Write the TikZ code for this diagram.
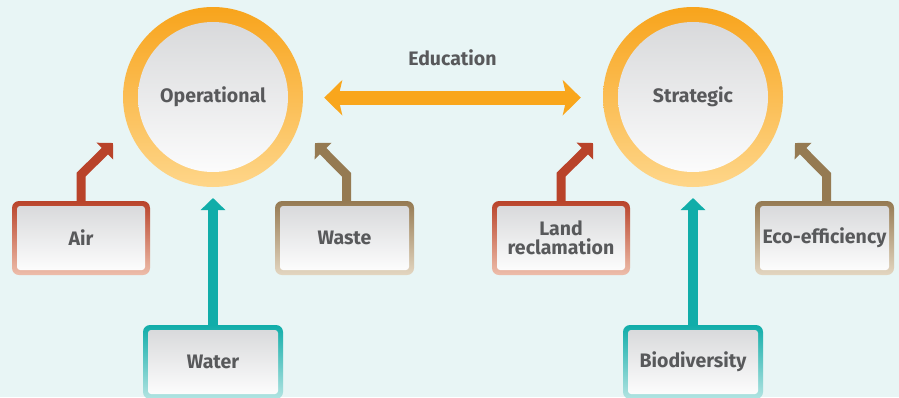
\documentclass[tikz,border=0pt]{standalone}
\usepackage{fontspec}
\setmainfont{Fira Sans}
\usetikzlibrary{arrows.meta}
\definecolor{bg}{HTML}{E8F5F5}
\definecolor{txt}{HTML}{58595B}
\definecolor{ringtop}{HTML}{F8A41C}
\definecolor{ringbot}{HTML}{FED68A}
\definecolor{innertop}{HTML}{D5D6D8}
\definecolor{boxtop}{HTML}{D6D7D9}
\definecolor{redc}{HTML}{B9432A}
\definecolor{redl}{HTML}{EDBDAA}
\definecolor{brownc}{HTML}{957A52}
\definecolor{brownl}{HTML}{E3D6C1}
\definecolor{tealc}{HTML}{10ADA9}
\definecolor{teall}{HTML}{B3E4E2}
\definecolor{orangec}{HTML}{F9A61C}
\begin{document}
\begin{tikzpicture}[x=1pt,y=-1pt,
  lab/.style={font=\fontsize{19.5}{18.5}\selectfont\bfseries, text=txt, align=center},
  hub/.style={circle, minimum size=180pt, inner sep=0pt, lab,
    top color=ringtop, bottom color=ringbot,
    path picture={\shade[top color=innertop, bottom color=white]
      (path picture bounding box.center) circle (75pt);}},
  box/.style n args={2}{rounded corners=7pt, minimum width=138pt, minimum height=74pt,
    inner sep=0pt, lab, top color=#1, middle color=#1!75!#2, bottom color=#2,
    path picture={\shade[top color=boxtop, bottom color=white, rounded corners=3pt]
      ([shift={(5pt,-5pt)}]path picture bounding box.north west) rectangle
      ([shift={(-5pt,5pt)}]path picture bounding box.south east);}},
  diag/.style={draw=#1, line width=9pt, line join=miter,
    -{Triangle[length=11.5pt, width=23pt, fill=#1]}},
  vert/.style={draw=#1, line width=9.5pt,
    -{Triangle[length=12pt, width=24pt, fill=#1]}}
]
\useasboundingbox[fill=bg] (0,0) rectangle (899,397);

% hubs
\node[hub] (op) at (213,97) {Operational};
\node[hub] (st) at (693,97) {Strategic};

% boxes
\node[box={redc}{redl}] (air) at (81,238) {Air};
\node[box={brownc}{brownl}, minimum width=139pt] (waste) at (344.5,238) {Waste};
\node[box={tealc}{teall}, minimum width=140pt] (water) at (213,362) {Water};
\node[box={redc}{redl}] (land) at (561,238) {Land\\reclamation};
\node[box={brownc}{brownl}, minimum width=139pt] (eco) at (824.5,238) {Eco-efficiency};
\node[box={tealc}{teall}, minimum width=140pt] (bio) at (693,362) {Biodiversity};

% arrow tips
\coordinate (airtip) at (113,143);
\coordinate (wastetip) at (315,143);
\coordinate (watertip) at (213,198);
\coordinate (landtip) at (593,143);
\coordinate (ecotip) at (795,143);
\coordinate (biotip) at (693,198);

\draw[diag=redc] (air.north) -- ++(0,-26) -- (airtip);
\draw[diag=brownc] ([xshift=2pt]waste.north) -- ++(0,-26) -- (wastetip);
\draw[vert=tealc] (water.north) -- (watertip);
\draw[diag=redc] (land.north) -- ++(0,-26) -- (landtip);
\draw[diag=brownc] ([xshift=2pt]eco.north) -- ++(0,-26) -- (ecotip);
\draw[vert=tealc] (bio.north) -- (biotip);

% education
\draw[draw=orangec, line width=14pt,
  {Stealth[length=18pt, width=35pt, inset=4pt, fill=orangec]}-{Stealth[length=18pt, width=35pt, inset=4pt, fill=orangec]}]
  ([xshift=21pt,yshift=-0.7pt]op.east) -- ([xshift=-22pt,yshift=-0.7pt]st.west)
  node[midway, yshift=40pt, lab] (edu) {Education};
\end{tikzpicture}
\end{document}
